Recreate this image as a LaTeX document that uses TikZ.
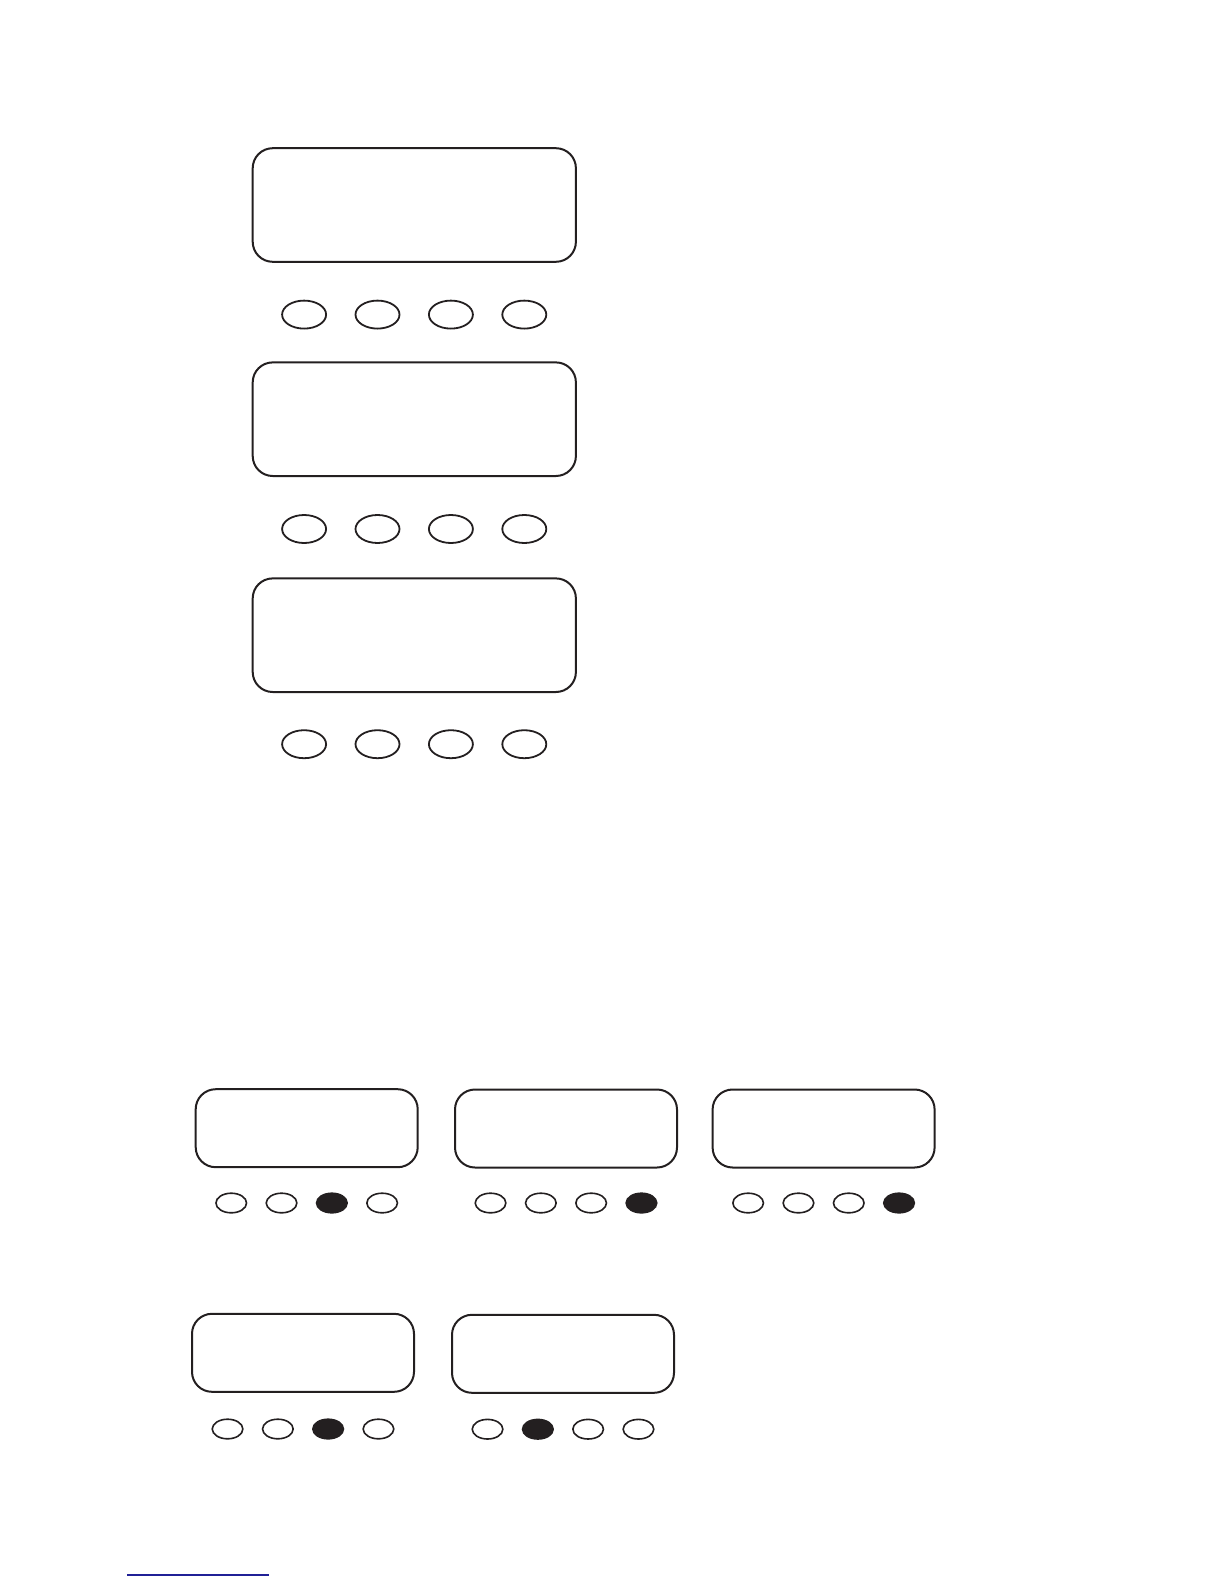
\documentclass[tikz,border=0pt]{standalone}
\usetikzlibrary{shapes.geometric}

\definecolor{inkblack}{RGB}{35,31,32}
\definecolor{linkblue}{RGB}{32,32,150}

\tikzset{
  bigscreen/.style={draw=inkblack, line width=1pt, rounded corners=10pt,
    minimum width=161.6pt, minimum height=56.8pt, inner sep=0pt, outer sep=0pt},
  smallscreen/.style={draw=inkblack, line width=1pt, rounded corners=10pt,
    minimum width=111pt, minimum height=39pt, inner sep=0pt, outer sep=0pt},
  bigkey/.style={ellipse, draw=inkblack, line width=0.9pt,
    minimum width=22pt, minimum height=14pt, inner sep=0pt, outer sep=0pt},
  smallkey/.style={ellipse, draw=inkblack, line width=0.8pt,
    minimum width=15.3pt, minimum height=9.8pt, inner sep=0pt, outer sep=0pt},
  off/.style={fill=white},
  on/.style={fill=inkblack}
}

\begin{document}
\begin{tikzpicture}[x=0.5pt,y=0.5pt,yscale=-1,xscale=1]

\useasboundingbox (0,0) rectangle (1224,1584);

\foreach \n/\sy/\ky in {1/205/314.6, 2/419.2/529, 3/635.2/744.2}{
  \node [bigscreen] (scr\n) at (414.3,\sy) {};
  \foreach \i in {1,...,4}
    \node [bigkey] (key\n-\i) at ({414.2+(\i-2.5)*73.4},\ky) {};
}

\foreach \n/\cx/\cy/\ky/\lit in {a/306.7/1128.2/1203/3, b/566/1128.5/1203/4,
    c/823.6/1128.5/1203/4, d/303/1352.8/1429/3, e/563/1353.8/1429.2/2}{
  \node [smallscreen] (pan\n) at (\cx,\cy) {};
  \foreach \i in {1,...,4}{
    \ifnum\i=\lit \def\keystate{on}\else\def\keystate{off}\fi
    \node [smallkey, \keystate] (led\n-\i) at ({\cx+(\i-2.5)*50.3},\ky) {};
  }
}

\coordinate (ruleL) at (127.3,1575);
\coordinate (ruleR) at (269,1575);
\draw [linkblue, line width=0.6pt] (ruleL) -- (ruleR);

\end{tikzpicture}
\end{document}
